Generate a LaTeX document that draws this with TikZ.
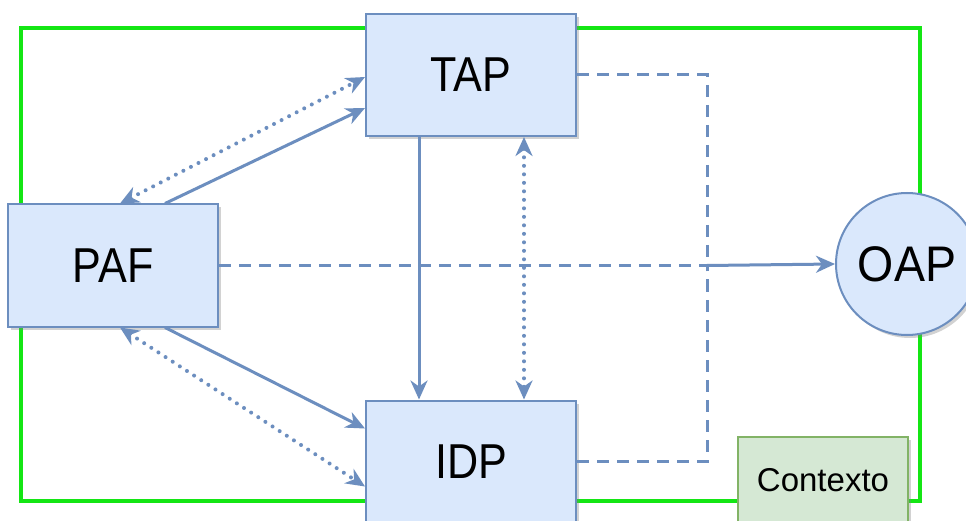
\documentclass[tikz,border=0pt]{standalone}
\usepackage{fontspec}
\setmainfont{Liberation Sans}
\usetikzlibrary{arrows.meta,shadows}
\definecolor{bstroke}{HTML}{6C8EBF}
\definecolor{bfill}{HTML}{DAE8FC}
\definecolor{gstroke}{HTML}{82B366}
\definecolor{gfill}{HTML}{D5E8D4}
\definecolor{frame}{HTML}{14E614}
\tikzset{
  shad/.style={drop shadow={shadow xshift=3pt,shadow yshift=-3pt,opacity=0.35,fill=gray}},
  blk/.style={draw=bstroke, fill=bfill, line width=2pt, minimum width=210pt,
    minimum height=122pt, inner sep=0pt, font=\fontsize{49}{52}\selectfont, shad},
  ctx/.style={draw=gstroke, fill=gfill, line width=2pt, minimum width=170pt,
    minimum height=86pt, inner sep=0pt, font=\fontsize{33}{38}\selectfont, shad},
  circ/.style={circle, draw=bstroke, fill=bfill, line width=2pt, minimum size=142pt,
    inner sep=0pt, font=\fontsize{50}{52}\selectfont, shad},
  conn/.style={draw=bstroke, line width=3pt, -{Stealth[length=19pt,width=17pt,inset=6pt]}},
  dotc/.style={draw=bstroke, line width=4pt, line cap=round, dash pattern=on 0pt off 8.5pt,
    {Stealth[length=19pt,width=17pt,inset=6pt]}-{Stealth[length=19pt,width=17pt,inset=6pt]}},
  dashc/.style={draw=bstroke, line width=3pt, dash pattern=on 12pt off 8pt},
  greenframe/.style={draw=frame, line width=3.5pt}
}
\begin{document}
\begin{tikzpicture}[x=1pt,y=-1pt]
\useasboundingbox (0,0) rectangle (966,521);
\fill[white] (0,0) rectangle (966,521);
\draw[greenframe] (21,28) rectangle (920,501);
\node[blk] (TAP) at (471,75) {\scalebox{0.88}[1]{TAP}};
\node[blk] (PAF) at (113,265.5) {\scalebox{0.88}[1]{PAF}};
\node[blk] (IDP) at (471,461.5) {\scalebox{0.88}[1]{IDP}};
\node[circ] (OAP) at (907,264) {\scalebox{0.93}[1]{OAP}};
\node[ctx] (CTX) at (823,480) {Contexto};
\coordinate (J) at (707,265.5);
% dashed links to the junction
\draw[dashc] (TAP.east) -| (J);
\draw[dashc] (IDP.east) -| (J);
\draw[dashc] (PAF.east) -- (J);
\draw[conn] (J) -- (OAP.west);
% PAF - TAP
\draw[conn] ([xshift=52pt]PAF.north) -- ([yshift=-33pt]TAP.west);
\draw[dotc] ([xshift=7pt]PAF.north) -- ([yshift=-2pt]TAP.west);
% PAF - IDP
\draw[conn] ([xshift=52pt]PAF.south) -- ([yshift=33pt]IDP.west);
\draw[dotc] ([xshift=7pt]PAF.south) -- ([yshift=-25pt]IDP.west);
% TAP - IDP
\draw[conn] ([xshift=-52pt]TAP.south) -- ([xshift=-52pt]IDP.north);
\draw[dotc] ([xshift=53pt]TAP.south) -- ([xshift=53pt]IDP.north);
\end{tikzpicture}
\end{document}
